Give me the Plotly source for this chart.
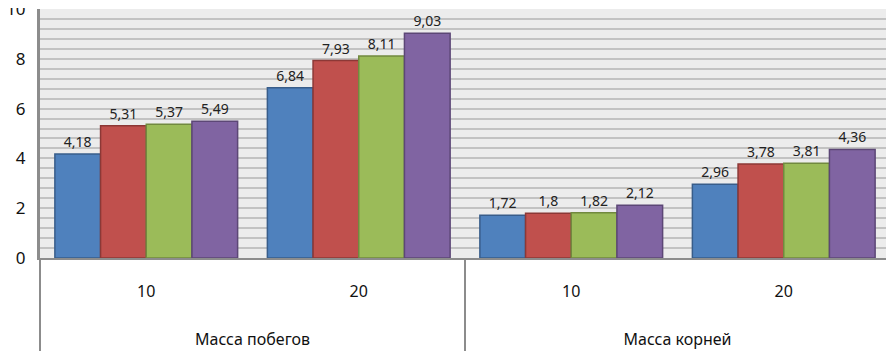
import plotly.graph_objects as go

outer = ["Масса побегов", "Масса побегов", "Масса корней", "Масса корней"]
inner = ["10", "20", "10", "20"]
series1 = [4.18, 6.84, 1.72, 2.96]
series2 = [5.31, 7.93, 1.8, 3.78]
series3 = [5.37, 8.11, 1.82, 3.81]
series4 = [5.49, 9.03, 2.12, 4.36]
y_ticks = [0, 2, 4, 6, 8, 10]

fills = ["#4F81BD", "#C0504D", "#9BBB59", "#8064A2"]
lines = ["#385D8A", "#8C3836", "#71893F", "#5C4776"]

def fmt(v):
    s = ("%.2f" % v).rstrip("0").rstrip(".")
    return s.replace(".", ",")

outer_lbl = ["<br><br>" + o for o in outer]

fig = go.Figure()
for vals, fc, lc in zip([series1, series2, series3, series4], fills, lines):
    fig.add_trace(go.Bar(
        x=[outer_lbl, inner], y=vals,
        marker=dict(color=fc, line=dict(color=lc, width=1.5)),
        text=[fmt(v) for v in vals], textposition="outside",
        textfont=dict(size=14, color="#222222", family="Noto Sans"),
        cliponaxis=False,
    ))

fig.update_layout(
    width=886, height=351,
    margin=dict(l=32, r=4, t=1, b=101),
    barmode="group", bargap=0.14, bargroupgap=0,
    showlegend=False,
    plot_bgcolor="#ececec", paper_bgcolor="white",
    font=dict(family="Noto Sans", size=15, color="#111111"),
)
fig.update_yaxes(
    range=[0, 10], tickvals=y_ticks, ticktext=[str(t) for t in y_ticks],
    showgrid=True, gridcolor="#c2c2c2", gridwidth=2,
    minor=dict(dtick=0.4, tick0=0, showgrid=True, gridcolor="#c2c2c2", gridwidth=2),
    showline=True, linecolor="#8c8c8c", linewidth=3,
    ticks="", tickfont=dict(size=17), ticklabelstandoff=8, zeroline=False,
    ticklabeloverflow="allow", automargin=False,
)
fig.update_xaxes(
    type="multicategory",
    showline=True, linecolor="#8c8c8c", linewidth=2,
    showdividers=True, dividercolor="#8c8c8c", dividerwidth=2,
    tickfont=dict(size=16), ticks="", ticklabelstandoff=18,
    automargin=False,
)
fig.write_html("out.html")
